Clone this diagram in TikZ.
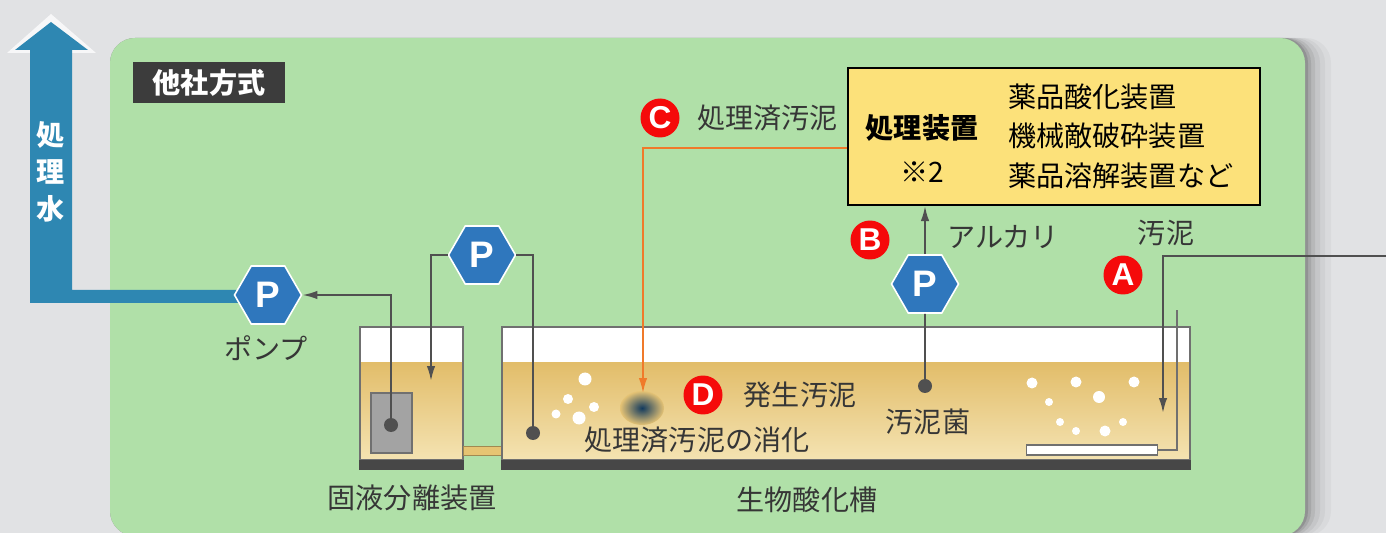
\documentclass[tikz,border=0pt]{standalone}
\usepackage{fontspec}
\setmainfont{Noto Sans CJK JP}
\newfontfamily\pfont{Liberation Sans}
\usetikzlibrary{arrows.meta, positioning, shapes.geometric}

\definecolor{bggray}{HTML}{E1E2E4}
\definecolor{panelgreen}{HTML}{B0E0A8}
\definecolor{tagdark}{HTML}{3C3C3C}
\definecolor{flowblue}{HTML}{2E87B2}
\definecolor{pumpblue}{HTML}{2F77BD}
\definecolor{badgered}{HTML}{F50A0A}
\definecolor{liqtop}{HTML}{E2BD6A}
\definecolor{liqbot}{HTML}{F4E3B2}
\definecolor{boxyellow}{HTML}{FCE17A}
\definecolor{sludgeorange}{HTML}{F07A2A}
\definecolor{wallgray}{HTML}{707070}
\definecolor{basegray}{HTML}{474747}
\definecolor{linegray}{HTML}{505050}
\definecolor{inkgray}{HTML}{363636}
\definecolor{pipetan}{HTML}{E6C472}
\definecolor{sepbox}{HTML}{A3A3A3}
\definecolor{spotblue}{HTML}{123A5E}

\begin{document}
\begin{tikzpicture}[x=0.02cm, y=-0.02cm,
  lbl/.style={font=\fontsize{16}{18}\selectfont, text=inkgray, inner sep=0pt},
  pump/.style={regular polygon, regular polygon sides=6, fill=pumpblue,
               draw=white, line width=0.9pt, minimum size=1.34cm, inner sep=0pt,
               text=white, font=\pfont\bfseries\fontsize{21}{21}\selectfont},
  badge/.style={circle, fill=badgered, minimum size=0.78cm, inner sep=0pt,
                text=white, font=\pfont\bfseries\fontsize{18}{18}\selectfont},
  pipe/.style={draw=linegray, line width=1.1pt},
  flow/.style={pipe, -{Latex[length=0.3cm, width=0.17cm]}},
  bubble/.style={fill=white}]

  \useasboundingbox (0,0) rectangle (1386,533);
  \clip (0,0) rectangle (1386,533);
  \fill[bggray] (0,0) rectangle (1386,533);

  % panel with a soft shadow on the right
  \foreach \s/\o in {26/0.03, 20/0.04, 15/0.05, 10/0.07, 6/0.09, 3/0.12}
    \fill[black, opacity=\o, rounded corners=0.5cm] (110,38) rectangle (1305+\s,536);
  \fill[panelgreen, rounded corners=0.5cm] (110,38) rectangle (1305,536);
  \node[fill=tagdark, text=white, minimum width=3.04cm, minimum height=0.82cm,
        inner sep=0pt, font=\fontsize{16}{18}\selectfont\bfseries] (tag) at (209,83) {他社方式};

  % treated water leaving the plant
  \fill[white, opacity=0.75] (7,53) -- (51,14) -- (96,53) -- cycle;
  \fill[flowblue] (30,303) -- (30,50) -- (15,50) -- (51,22) -- (88,50) -- (72,50)
                  -- (72,290) -- (250,290) -- (250,303) -- cycle;
  \node[text=white, align=center, inner sep=0pt,
        font=\fontsize{16}{21}\selectfont\bfseries] (water) at (51,172) {処\\理\\水};

  % solid-liquid separator
  \fill[white] (360,327) rectangle (463,363);
  \shade[top color=liqtop, bottom color=liqbot] (360,363) rectangle (463,460);
  \draw[wallgray, line width=1pt] (360,327) rectangle (463,460);
  \fill[basegray] (359,460) rectangle (464,470);
  \draw[fill=sepbox, draw=wallgray, line width=1pt] (371,393) rectangle (412,453);

  % pipe between the two tanks
  \draw[fill=pipetan, draw=pipetan!70!black, line width=0.4pt] (463,446) rectangle (502,455);

  % biological oxidation tank
  \fill[white] (502,327) rectangle (1190,363);
  \shade[top color=liqtop, bottom color=liqbot] (502,363) rectangle (1190,460);
  \draw[wallgray, line width=1pt] (502,327) rectangle (1190,460);
  \fill[basegray] (501,460) rectangle (1191,470);

  % air bubbles
  \foreach \bx/\by/\br in {585/379/6.5, 568/399/5, 594/407/5, 556/414/4.5, 579/418/6.5,
                           1032/383/5.5, 1076/382/5.5, 1134/382/5.5, 1049/402/4,
                           1099/397/6, 1060/422/4, 1076/431/4, 1105/431/5.5, 1123/422/4}
    \fill[bubble] (\bx,\by) circle (\br);

  % digested sludge spot
  \shade[inner color=spotblue, outer color=liqtop!85!liqbot] (642,408) ellipse (22 and 17);

  % diffuser on the bottom
  \node[draw=wallgray, fill=white, line width=0.8pt, minimum width=2.62cm,
        minimum height=0.2cm, inner sep=0pt] (diffuser) at (1092,450) {};
  \coordinate (airtop) at (1177,310);
  \draw[draw=wallgray, line width=0.9pt] (diffuser.east) -| (airtop);

  % treatment unit
  \node[draw=black, fill=boxyellow, line width=1.2pt, minimum width=8.24cm,
        minimum height=2.74cm, inner sep=0pt] (treat) at (1054,136.5) {};
  \node[lbl, text=black, font=\fontsize{16}{18}\selectfont\bfseries] (treatname) at (922,128) {処理装置};
  \node[lbl, text=black] (note) at (922,172) {※2};
  \node[lbl, text=black, anchor=west] (kind1) at (1008,97) {薬品酸化装置};
  \node[lbl, text=black, anchor=west] (kind2) at (1008,136) {機械敵破砕装置};
  \node[lbl, text=black, anchor=west] (kind3) at (1008,176) {薬品溶解装置など};

  % pumps
  \node[pump] (pumpout) at (268,295) {P};
  \node[pump] (pumpret) at (482,255) {P};
  \node[pump] (pumpalk) at (925,284) {P};
  \node[lbl] (pumplbl) at (266,348) {ポンプ};

  % suction points and outlets
  \coordinate (sepdot) at (391,425);
  \coordinate (sepin) at (431,381);
  \coordinate (biodot) at (533,433);
  \coordinate (bacdot) at (925,386);
  \coordinate (digestin) at (643,393);
  \coordinate (sludgein) at (1390,256);
  \coordinate (aerin) at (1163,413);

  \draw[flow] (sepdot) |- (pumpout.east);
  \draw[flow] (pumpret.west) -| (sepin);
  \draw[pipe] (biodot) |- (pumpret.east);
  \draw[pipe] (bacdot) -- (pumpalk.south);
  \draw[flow] (pumpalk.north) -- (pumpalk.north |- treat.south);
  \draw[draw=sludgeorange, line width=1.1pt, -{Latex[length=0.3cm, width=0.17cm]}]
    ([yshift=-0.23cm]treat.west) -| (digestin);
  \draw[flow] (sludgein) -| (aerin);
  \foreach \d in {sepdot, biodot, bacdot}
    \fill[linegray] (\d) circle (7);

  % badges and labels
  \node[badge] (badgeC) at (660,118) {C};
  \node[lbl, anchor=west] (treatedlbl) at (697,118) {処理済汚泥};
  \node[badge] (badgeB) at (870,240) {B};
  \node[lbl, anchor=west] (alkali) at (947,237) {アルカリ};
  \node[lbl] (sludgelbl) at (1166,233) {汚泥};
  \node[badge] (badgeA) at (1123,275) {A};
  \node[badge] (badgeD) at (703,395) {D};
  \node[lbl] (newsludge) at (800,395) {発生汚泥};
  \node[lbl] (digest) at (697,440) {処理済汚泥の消化};
  \node[lbl] (bacteria) at (928,422) {汚泥菌};
  \node[lbl] (seplbl) at (412,498) {固液分離装置};
  \node[lbl] (biolbl) at (807,500) {生物酸化槽};
\end{tikzpicture}
\end{document}
